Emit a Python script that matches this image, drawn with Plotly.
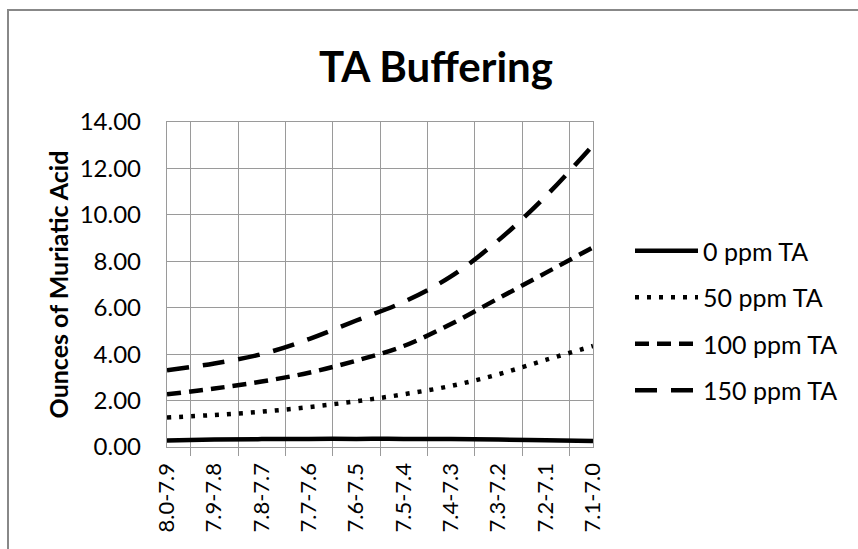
import plotly.graph_objects as go

categories = ["8.0-7.9", "7.9-7.8", "7.8-7.7", "7.7-7.6", "7.6-7.5",
              "7.5-7.4", "7.4-7.3", "7.3-7.2", "7.2-7.1", "7.1-7.0"]
ta_0 = [0.28, 0.32, 0.34, 0.35, 0.35, 0.35, 0.34, 0.32, 0.29, 0.26]
ta_50 = [1.27, 1.38, 1.52, 1.72, 1.97, 2.27, 2.63, 3.13, 3.75, 4.35]
ta_100 = [2.27, 2.52, 2.82, 3.20, 3.72, 4.35, 5.30, 6.40, 7.50, 8.60]
ta_150 = [3.30, 3.60, 4.00, 4.65, 5.45, 6.25, 7.35, 8.90, 10.80, 13.00]
series_names = ["0 ppm TA", "50 ppm TA", "100 ppm TA", "150 ppm TA"]
y_ticks = [0, 2, 4, 6, 8, 10, 12, 14]

FONT = "Lato"
GRID = "#9a9a9a"

styles = [
    dict(dash="solid"),
    dict(dash="4px,8px"),
    dict(dash="14px,8px"),
    dict(dash="22px,14px"),
]

fig = go.Figure()
for i, (name, vals, st) in enumerate(zip(series_names, [ta_0, ta_50, ta_100, ta_150], styles)):
    fig.add_trace(go.Scatter(
        x=categories, y=vals, name=name, mode="lines",
        line=dict(color="black", width=4.5, shape="spline", smoothing=1, dash=st["dash"]),
        legendgroup=f"g{i}",
    ))

# plot area in px
L, R, T, B = 167, 593, 122, 447
W, H = 858, 549

def px_x(p):
    return (p - L) / (R - L)

def px_y(p):
    return (B - p) / (B - T)

fig.update_layout(
    width=W, height=H,
    margin=dict(l=L, r=W - R, t=T, b=H - B, pad=0),
    paper_bgcolor="white", plot_bgcolor="white",
    font=dict(family=FONT, color="black", size=23),
    title=dict(text="<b>TA Buffering</b>", x=(317 + 555) / 2 / W, xanchor="center",
               y=1 - 67 / H, yanchor="middle", font=dict(size=42, family=FONT)),
    showlegend=True,
    legend=dict(xref="container", yref="container", x=630 / W, y=1 - 228 / H,
                xanchor="left", yanchor="top", itemwidth=63, tracegroupgap=11,
                font=dict(size=25, family=FONT), bgcolor="rgba(0,0,0,0)"),
    shapes=[dict(type="rect", xref="paper", yref="paper",
                 x0=px_x(8), x1=px_x(900), y0=px_y(600), y1=px_y(10),
                 line=dict(color="#888888", width=2), layer="below")],
)

fig.update_xaxes(
    type="category", tickangle=-90, tickson="boundaries", ticks="outside",
    ticklen=8, tickcolor=GRID, tickwidth=1.3,
    showgrid=True, gridcolor=GRID, gridwidth=1.3,
    showline=True, linecolor=GRID, linewidth=1.3, mirror=True,
    tickfont=dict(size=22, family=FONT), ticklabelstandoff=6,
)
fig.update_yaxes(
    range=[0, 14], tickvals=y_ticks, tickformat=".2f",
    showgrid=True, gridcolor=GRID, gridwidth=1.3,
    showline=True, linecolor=GRID, linewidth=1.3, mirror=True,
    ticks="", tickfont=dict(size=24, family=FONT), ticklabelstandoff=20,
    zeroline=False,
    title=dict(text="<b>Ounces of Muriatic Acid</b>", font=dict(size=25, family=FONT), standoff=3),
)

fig.write_html("out.html")
